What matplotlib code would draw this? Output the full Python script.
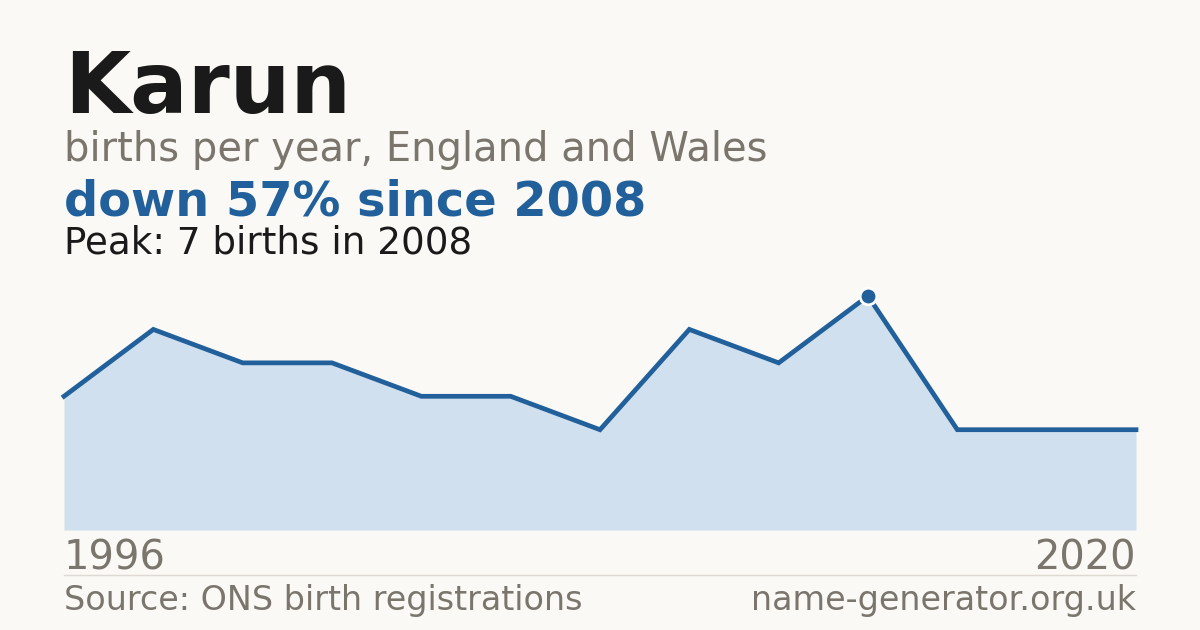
import matplotlib
matplotlib.use("Agg")
import matplotlib.pyplot as plt

# data (years with published counts, evenly spaced in the chart)
years = [1996, 1998, 1999, 2000, 2001, 2002, 2004, 2005, 2006, 2008, 2011, 2015, 2020]
births = [4, 6, 5, 5, 4, 4, 3, 6, 5, 7, 3, 3, 3]
name = "Karun"
peak_year = 2008
peak_val = 7

BG = "#faf9f5"
BLUE = "#21609a"
FILL = "#d0e0ef"
GRAY = "#7a756d"
INK = "#1a1a1a"

W, H = 1200, 630
fig = plt.figure(figsize=(W / 100, H / 100), dpi=100, facecolor=BG)
plt.rcParams['font.family'] = ['DejaVu Sans']

def px(x, y):
    return x / W, 1 - y / H

# header text
fig.text(*px(64, 113), name, fontsize=61.5, fontweight='bold', color=INK, va='baseline')
fig.text(*px(64, 161), "births per year, England and Wales", fontsize=28.8, color=GRAY, va='baseline')
fig.text(*px(64, 215), "down 57% since 2008", fontsize=34.5, fontweight='bold', color=BLUE, va='baseline')
fig.text(*px(64, 254), f"Peak: {peak_val} births in {peak_year}", fontsize=26.8, color=INK, va='baseline')

# chart area: bottom at y=530px, value 7 at y=296px
ax = fig.add_axes([64 / W, 100 / H, (1136 - 64) / W, 234 / H])
ax.set_facecolor(BG)
xs = list(range(len(births)))
ax.fill_between(xs, births, 0, color=FILL, lw=0)
ax.plot(xs, births, color=BLUE, lw=3.4, solid_joinstyle='miter', clip_on=False)
pi = births.index(max(births))
ax.plot([xs[pi]], [births[pi]], 'o', ms=12, color=BLUE, mec='white', mew=2, clip_on=False, zorder=5)
ax.set_xlim(0, len(births) - 1)
ax.set_ylim(0, peak_val)
ax.axis('off')

# axis labels
fig.text(*px(64, 570), str(years[0]), fontsize=28.8, color=GRAY, va='baseline')
fig.text(*px(1136, 570), str(years[-1]), fontsize=28.8, color=GRAY, va='baseline', ha='right')

# separator
fig.add_artist(plt.Line2D([64 / W, 1136 / W], [1 - 574.5 / H] * 2, color="#dedad2", lw=1))

# footer
fig.text(*px(64, 610), "Source: ONS birth registrations", fontsize=24, color=GRAY, va='baseline')
fig.text(*px(1136, 610), "name-generator.org.uk", fontsize=24, color=GRAY, va='baseline', ha='right')

fig.savefig("out.png", dpi=100, facecolor=BG)
